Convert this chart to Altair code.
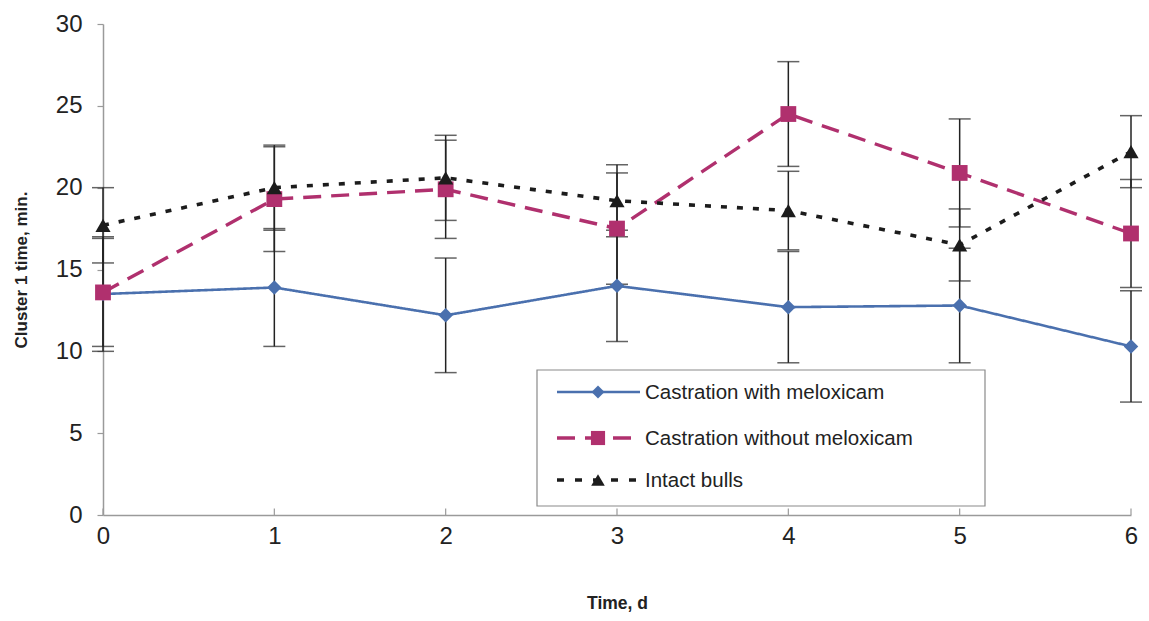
import altair as alt
import pandas as pd

# Days after treatment
days = [0, 1, 2, 3, 4, 5, 6]

series_names = [
    "Castration with meloxicam",
    "Castration without meloxicam",
    "Intact bulls",
]

# Mean cluster 1 time (min) and standard errors per group
mel_mean = [13.5, 13.9, 12.2, 14.0, 12.7, 12.8, 10.3]
mel_se = [3.5, 3.6, 3.5, 3.4, 3.4, 3.5, 3.4]

nomel_mean = [13.6, 19.3, 19.9, 17.5, 24.5, 20.9, 17.2]
nomel_se = [3.3, 3.2, 3.0, 3.4, 3.2, 3.3, 3.3]

intact_mean = [17.7, 20.0, 20.6, 19.2, 18.6, 16.5, 22.2]
intact_se = [2.3, 2.6, 2.6, 2.2, 2.4, 2.2, 2.2]

colors = ["#4A70AE", "#B0306E", "#1C1C1C"]
shapes = ["diamond", "square", "triangle-up"]
dashes = [[1, 0], [18, 10], [6, 10]]
widths = [2.6, 3.4, 3.6]
sizes = [210, 250, 230]

FONT = "Liberation Sans"

frames = []
for name, m, s in [
    (series_names[0], mel_mean, mel_se),
    (series_names[1], nomel_mean, nomel_se),
    (series_names[2], intact_mean, intact_se),
]:
    df = pd.DataFrame({"day": days, "mean": m, "se": s})
    df["series"] = name
    df["lo"] = df["mean"] - df["se"]
    df["hi"] = df["mean"] + df["se"]
    frames.append(df)
data = pd.concat(frames, ignore_index=True)

x_scale = alt.Scale(domain=[0, 6], nice=False, zero=False)
y_scale = alt.Scale(domain=[0, 30], nice=False)

x_axis = alt.Axis(
    values=days, format="d", title="Time, d", labelFontSize=24,
    labelPadding=9, labelFlush=False, labelOverlap=False,
    ticks=False, domainColor="#9a9a9a", domainWidth=1.5,
    labelColor="#222222", titleFontSize=17.5, titleFontWeight="bold",
    titleColor="#222222", titlePadding=46, labelFont=FONT, titleFont=FONT,
    grid=False,
)
y_axis = alt.Axis(
    values=[0, 5, 10, 15, 20, 25, 30], format="d",
    title="Cluster 1 time, min.", labelFlush=False, labelOverlap=False,
    labelFontSize=24, labelPadding=15, tickSize=6, tickColor="#9a9a9a",
    tickWidth=1.2, domainColor="#9a9a9a", domainWidth=1.5,
    labelColor="#222222", titleFontSize=17, titleFontWeight="bold",
    titleColor="#222222", titlePadding=25, labelFont=FONT, titleFont=FONT,
    grid=False,
)

base = alt.Chart(data)

# Axes carried by an invisible layer
axes_layer = base.mark_point(opacity=0).encode(
    x=alt.X("day:Q", scale=x_scale, axis=x_axis),
    y=alt.Y("mean:Q", scale=y_scale, axis=y_axis),
)

# Inward tick marks on the x axis
xticks = alt.Chart(pd.DataFrame({"day": days})).mark_rule(
    color="#9a9a9a", strokeWidth=1.2
).encode(
    x=alt.X("day:Q", scale=x_scale),
    y=alt.datum(0, scale=y_scale),
    y2=alt.datum(0.4),
)

layers = [axes_layer, xticks]

for i, name in enumerate(series_names):
    sub = base.transform_filter(alt.datum.series == name)
    line = sub.mark_line(
        color=colors[i], strokeWidth=widths[i], strokeDash=dashes[i]
    ).encode(
        x=alt.X("day:Q", scale=x_scale),
        y=alt.Y("mean:Q", scale=y_scale),
    )
    layers.append(line)

for i, name in enumerate(series_names):
    sub = base.transform_filter(alt.datum.series == name)
    bar = sub.mark_rule(color="#222222", strokeWidth=1.5).encode(
        x=alt.X("day:Q", scale=x_scale),
        y=alt.Y("lo:Q", scale=y_scale),
        y2="hi:Q",
    )
    cap_lo = sub.mark_tick(
        orient="horizontal", color="#222222", size=22, thickness=1.5
    ).encode(x=alt.X("day:Q", scale=x_scale), y=alt.Y("lo:Q", scale=y_scale))
    cap_hi = sub.mark_tick(
        orient="horizontal", color="#222222", size=22, thickness=1.5
    ).encode(x=alt.X("day:Q", scale=x_scale), y=alt.Y("hi:Q", scale=y_scale))
    layers += [bar, cap_lo, cap_hi]

for i, name in enumerate(series_names):
    sub = base.transform_filter(alt.datum.series == name)
    pts = sub.mark_point(
        shape=shapes[i], filled=True, color=colors[i], size=sizes[i], opacity=1
    ).encode(
        x=alt.X("day:Q", scale=x_scale),
        y=alt.Y("mean:Q", scale=y_scale),
    )
    layers.append(pts)

# Legend box with line + marker samples
legend_df = pd.DataFrame({"series": series_names})
legend_box = alt.Chart(legend_df.head(1)).mark_rect(
    fill="white", stroke="#8a8a8a", strokeWidth=1.2
).encode(
    x=alt.value(434), x2=alt.value(882), y=alt.value(346), y2=alt.value(482)
)
layers.append(legend_box)

row_y = [368, 414, 456]
legend_dash = [[1, 0], [18, 10], [7, 11]]
for i, name in enumerate(series_names):
    row = alt.Chart(legend_df).transform_filter(alt.datum.series == name)
    seg = row.mark_rule(
        color=colors[i], strokeWidth=widths[i], strokeDash=legend_dash[i]
    ).encode(x=alt.value(454), x2=alt.value(537), y=alt.value(row_y[i]))
    sym = row.mark_point(
        shape=shapes[i], filled=True, color=colors[i], size=sizes[i] * 0.8,
        opacity=1,
    ).encode(x=alt.value(495), y=alt.value(row_y[i]))
    lab = row.mark_text(
        align="left", baseline="middle", fontSize=20.5, font=FONT,
        color="#222222",
    ).encode(x=alt.value(542), y=alt.value(row_y[i] + 1), text="series:N")
    layers += [seg, sym, lab]

chart = alt.layer(*layers).properties(
    width=1028,
    height=491,
    autosize=alt.AutoSizeParams(type="none"),
    padding={"left": 103, "top": 24, "right": 18, "bottom": 106},
    background="white",
).configure_view(stroke=None)

chart.save("out.html", embed_options={"renderer": "svg", "actions": False})
